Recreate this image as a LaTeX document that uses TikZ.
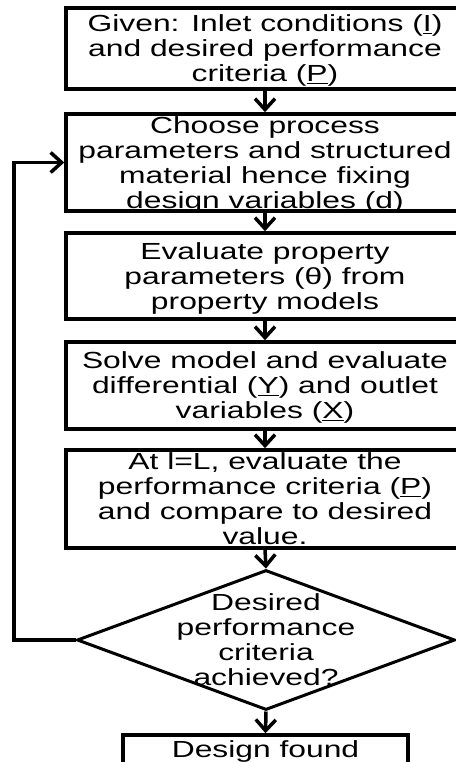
\documentclass[tikz,border=0pt]{standalone}
\usepackage{fontspec}
\setmainfont{Liberation Sans}[FakeStretch=1.365]
\usetikzlibrary{shapes.geometric,arrows.meta}
\begin{document}
\begin{tikzpicture}[x=1pt,y=-1pt,
  box/.style={draw, line width=3.5pt, rectangle, minimum width=398pt, inner sep=0pt},
  dia/.style={draw, line width=3pt, diamond, inner sep=0pt, minimum width=378pt, minimum height=140pt},
  txt/.style={align=center, font=\fontsize{23.3}{25}\selectfont, inner sep=0pt, text depth=0pt},
  arr/.style={line width=3.5pt, -{Straight Barb[length=11pt,width=20pt,line width=3.5pt]}}]
\useasboundingbox (0,0) rectangle (455,762);
\node[box, minimum height=81pt] (b1) at (265,48.5) {};
\node[txt] (t1) at (b1) {Given: Inlet conditions (\underline{I})\\and desired performance\\criteria (\underline{P})};
\node[box, minimum height=97pt] (b2) at (265,162.5) {};
\node[txt] (t2) at (b2) {Choose process\\parameters and structured\\material hence fixing\\design variables (\underline{d})};
\node[box, minimum height=86pt] (b3) at (265,276) {};
\node[txt] (t3) at (b3) {Evaluate property\\parameters (θ) from\\property models};
\node[box, minimum height=87pt] (b4) at (265,385.5) {};
\node[txt] (t4) at (b4) {Solve model and evaluate\\differential (\underline{Y}) and outlet\\variables (\underline{X})};
\node[box, minimum height=98pt] (b5) at (265,499) {};
\node[txt] (t5) at (b5) {At l=L, evaluate the\\performance criteria (\underline{P})\\and compare to desired\\value.};
\node[dia] (d) at (266,640) {};
\node[txt] (td) at (d) {Desired\\performance\\criteria\\achieved?};
\node[box, minimum width=285pt, minimum height=33pt] (b6) at (265.5,751.5) {};
\node[txt, anchor=base] (t6) at (265.5,757) {Design found};
\coordinate (lp) at (14,640);
\draw[arr] (b1.south) -- (b2.north);
\draw[arr] (b2.south) -- (b3.north);
\draw[arr] (b3.south) -- (b4.north);
\draw[arr] (b4.south) -- (b5.north);
\draw[arr] (b5.south) -- (d.north);
\draw[arr] (d.south) -- (b6.north);
\draw[arr] (d.west) -- (lp) |- (b2.west);
\end{tikzpicture}
\end{document}
